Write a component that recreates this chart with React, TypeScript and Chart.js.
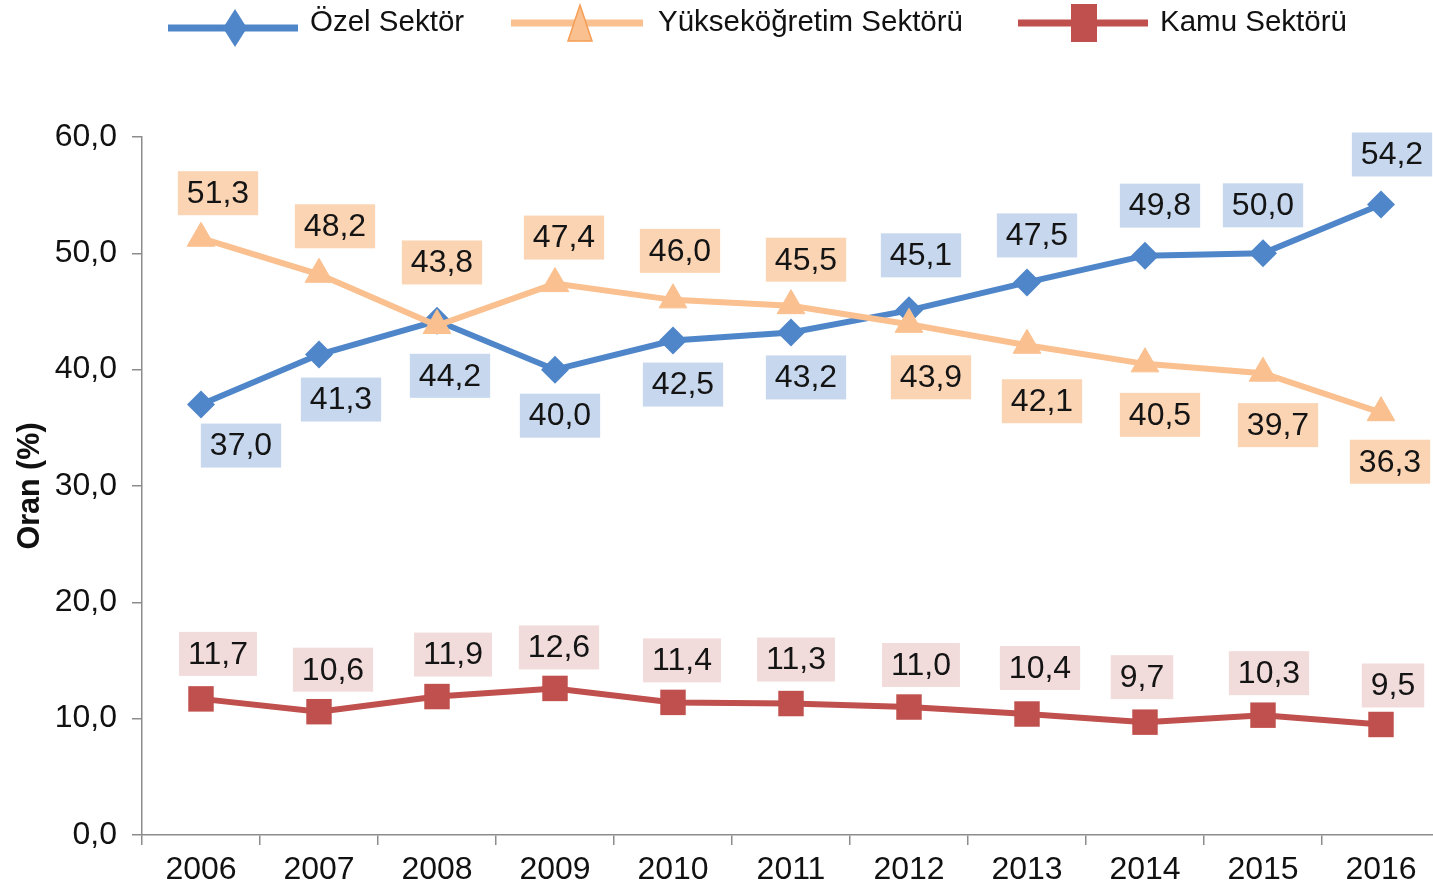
import React, { useEffect, useRef } from 'react';
import { Chart, registerables } from 'chart.js';

Chart.register(...registerables);

// ---- data ----
const years = ['2006', '2007', '2008', '2009', '2010', '2011', '2012', '2013', '2014', '2015', '2016'];
const ozelSektor = [37.0, 41.3, 44.2, 40.0, 42.5, 43.2, 45.1, 47.5, 49.8, 50.0, 54.2];
const yuksekogretimSektoru = [51.3, 48.2, 43.8, 47.4, 46.0, 45.5, 43.9, 42.1, 40.5, 39.7, 36.3];
const kamuSektoru = [11.7, 10.6, 11.9, 12.6, 11.4, 11.3, 11.0, 10.4, 9.7, 10.3, 9.5];
const yTickValues = [0, 10, 20, 30, 40, 50, 60];
const seriesNames = ['Özel Sektör', 'Yükseköğretim Sektörü', 'Kamu Sektörü'];
const yAxisTitle = 'Oran (%)';

// ---- label placement (offsets of value boxes from their points) ----
const ozelLabelDx = [40, 22, 13, 5, 10, 15, 12, 10, 15, 0, 11];
const ozelLabelDy = [41, 45, 55, 46, 44, 45, -55, -47, -50, -48, -50];
const yuksekLabelDx = [17, 16, 5, 9, 7, 15, 22, 15, 15, 15, 9];
const yuksekLabelDy = [-45, -48, -63, -46, -49, -46, 53, 56, 51, 52, 49];
const kamuLabelDx = [17, 14, 16, 4, 9, 5, 12, 13, -3, 6, 12];
const kamuLabelDy = [-45, -42, -42, -41, -42, -44, -42, -46, -45, -42, -39];

const FONT = "'Liberation Sans', Arial, Helvetica, sans-serif";

const BLUE = '#4F86C9';
const BLUE_BG = '#C6D7EE';
const ORANGE = '#FAC08F';
const ORANGE_EDGE = '#F59D55';
const ORANGE_BG = '#FBD4B4';
const RED = '#C0504D';
const RED_BG = '#F2DCDB';

const fmt = (v: number) => v.toFixed(1).replace('.', ',');

const labelPlugin = {
  id: 'valueBoxes',
  afterDatasetsDraw(chart: any) {
    const ctx = chart.ctx;
    const cfg = [
      { data: ozelSektor, dx: ozelLabelDx, dy: ozelLabelDy, bg: BLUE_BG },
      { data: yuksekogretimSektoru, dx: yuksekLabelDx, dy: yuksekLabelDy, bg: ORANGE_BG },
      { data: kamuSektoru, dx: kamuLabelDx, dy: kamuLabelDy, bg: RED_BG },
    ];
    ctx.save();
    ctx.font = `32px ${FONT}`;
    ctx.textAlign = 'center';
    ctx.textBaseline = 'middle';
    cfg.forEach((c, di) => {
      const meta = chart.getDatasetMeta(di);
      meta.data.forEach((pt: any, i: number) => {
        const txt = fmt(c.data[i]);
        const w = ctx.measureText(txt).width + 18;
        const h = 44;
        const cx = pt.x + c.dx[i];
        const cy = pt.y + c.dy[i];
        ctx.fillStyle = c.bg;
        ctx.fillRect(cx - w / 2, cy - h / 2, w, h);
        ctx.fillStyle = '#141414';
        ctx.fillText(txt, cx, cy + 1);
      });
    });
    ctx.restore();
  },
};

const legendPlugin = {
  id: 'excelLegend',
  afterDraw(chart: any) {
    const ctx = chart.ctx;
    ctx.save();
    ctx.lineCap = 'butt';
    // Özel
    ctx.strokeStyle = BLUE;
    ctx.lineWidth = 7;
    ctx.beginPath();
    ctx.moveTo(168, 28);
    ctx.lineTo(298, 28);
    ctx.stroke();
    ctx.fillStyle = BLUE;
    ctx.beginPath();
    ctx.moveTo(235, 9);
    ctx.lineTo(247, 28);
    ctx.lineTo(235, 47);
    ctx.lineTo(223, 28);
    ctx.closePath();
    ctx.fill();
    // Yükseköğretim
    ctx.strokeStyle = ORANGE;
    ctx.beginPath();
    ctx.moveTo(511, 23);
    ctx.lineTo(643, 23);
    ctx.stroke();
    ctx.fillStyle = ORANGE;
    ctx.strokeStyle = ORANGE_EDGE;
    ctx.lineWidth = 1.5;
    ctx.beginPath();
    ctx.moveTo(580, 5);
    ctx.lineTo(592, 41);
    ctx.lineTo(568, 41);
    ctx.closePath();
    ctx.fill();
    ctx.stroke();
    // Kamu
    ctx.strokeStyle = RED;
    ctx.lineWidth = 7;
    ctx.beginPath();
    ctx.moveTo(1018, 23);
    ctx.lineTo(1148, 23);
    ctx.stroke();
    ctx.fillStyle = RED;
    ctx.fillRect(1071, 4, 26, 38);

    ctx.fillStyle = '#111';
    ctx.font = `29.5px ${FONT}`;
    ctx.textAlign = 'left';
    ctx.textBaseline = 'alphabetic';
    ctx.fillText(seriesNames[0], 310, 31);
    ctx.fillText(seriesNames[1], 658, 31);
    ctx.fillText(seriesNames[2], 1160, 31);
    ctx.restore();
  },
};

export default function App() {
  const ref = useRef<HTMLCanvasElement | null>(null);

  useEffect(() => {
    document.body.style.margin = '0';
    const canvas = ref.current;
    if (!canvas) return;
    const chart = new Chart(canvas, {
      type: 'line',
      data: {
        labels: years,
        datasets: [
          {
            label: seriesNames[0],
            data: ozelSektor,
            borderColor: BLUE,
            backgroundColor: BLUE,
            borderWidth: 6,
            pointStyle: 'rectRot',
            pointRadius: 14,
            pointBorderWidth: 0,
            pointBackgroundColor: BLUE,
            order: 1,
            tension: 0,
          },
          {
            label: seriesNames[1],
            data: yuksekogretimSektoru,
            borderColor: ORANGE,
            backgroundColor: ORANGE,
            borderWidth: 6,
            pointStyle: 'triangle',
            pointRadius: 16,
            pointBorderWidth: 1,
            pointBorderColor: ORANGE,
            pointBackgroundColor: ORANGE,
            order: 0,
            tension: 0,
          },
          {
            label: seriesNames[2],
            data: kamuSektoru,
            borderColor: RED,
            backgroundColor: RED,
            borderWidth: 6,
            pointStyle: 'rect',
            pointRadius: 18,
            pointBorderWidth: 0,
            pointBackgroundColor: RED,
            order: 2,
            tension: 0,
          },
        ],
      },
      options: {
        responsive: false,
        animation: false,
        events: [],
        layout: { padding: { top: 137, left: 0, right: 0, bottom: 0 } },
        plugins: {
          legend: { display: false },
          tooltip: { enabled: false },
          title: { display: false },
        },
        scales: {
          x: {
            offset: true,
            afterFit: (s: any) => {
              s.height = 55;
            },
            grid: {
              display: true,
              offset: true,
              drawOnChartArea: false,
              drawTicks: true,
              tickLength: 10,
              color: '#8c8c8c',
              lineWidth: 1.5,
            },
            border: { display: true, color: '#8c8c8c', width: 1.5 },
            ticks: {
              color: '#111',
              font: { family: FONT, size: 32 },
              padding: 6,
              maxRotation: 0,
              autoSkip: false,
            },
          },
          y: {
            min: 0,
            max: 60,
            afterFit: (s: any) => {
              s.width = 142;
            },
            afterBuildTicks: (s: any) => {
              s.ticks = yTickValues.map((v) => ({ value: v }));
            },
            grid: {
              display: true,
              drawOnChartArea: false,
              drawTicks: true,
              tickLength: 10,
              color: '#8c8c8c',
              lineWidth: 1.5,
            },
            border: { display: true, color: '#8c8c8c', width: 1.5 },
            ticks: {
              color: '#111',
              font: { family: FONT, size: 32 },
              padding: 15,
              callback: (v: any) => fmt(Number(v)),
            },
            title: {
              display: true,
              text: yAxisTitle,
              color: '#111',
              font: { family: FONT, size: 30.5, weight: 'bold' },
              padding: { top: 12, bottom: 0 },
            },
          },
        },
      },
      plugins: [labelPlugin, legendPlugin],
    } as any);
    return () => chart.destroy();
  }, []);

  return (
    <div style={{ width: 1433, height: 890, overflow: 'hidden', background: '#fff' }}>
      <canvas ref={ref} width={1458} height={890} style={{ display: 'block', width: 1458, height: 890 }} />
    </div>
  );
}
